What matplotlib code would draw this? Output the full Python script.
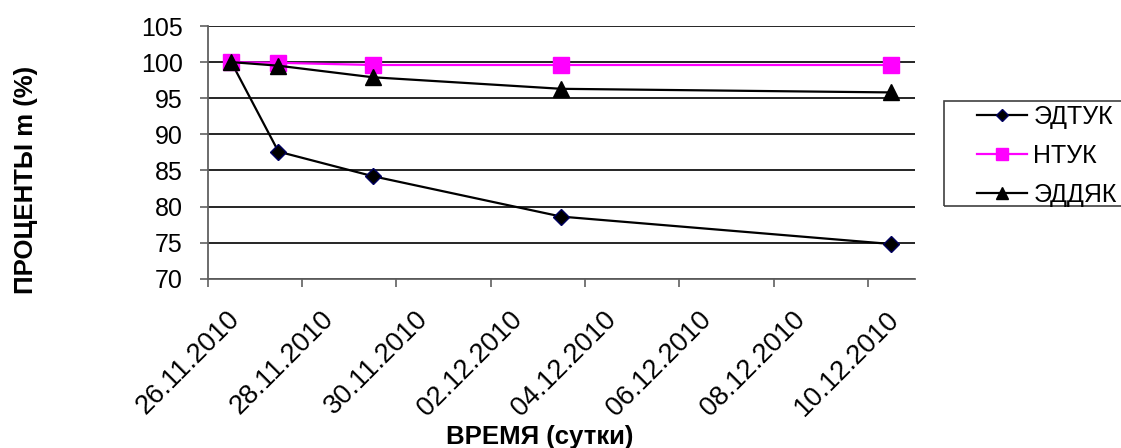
import pandas as pd
import numpy as np
import matplotlib
matplotlib.use('Agg')
import matplotlib.pyplot as plt
import matplotlib.dates as mdates
import matplotlib.transforms as mtransforms
from matplotlib.patches import Rectangle
from datetime import timedelta

plt.rcParams['font.family'] = ['Liberation Sans', 'DejaVu Sans']

# Data
dates = ['26.11.2010', '27.11.2010', '29.11.2010', '03.12.2010', '10.12.2010']
edtuk = [100.0, 87.6, 84.2, 78.6, 74.8]
ntuk = [100.0, 99.9, 99.6, 99.6, 99.6]
eddyak = [100.0, 99.5, 97.9, 96.3, 95.8]
series_names = ['ЭДТУК', 'НТУК', 'ЭДДЯК']
tick_dates = ['26.11.2010', '28.11.2010', '30.11.2010', '02.12.2010',
              '04.12.2010', '06.12.2010', '08.12.2010', '10.12.2010']

x = pd.to_datetime(dates, dayfirst=True).to_pydatetime()
xt = pd.to_datetime(tick_dates, dayfirst=True).to_pydatetime()
half = timedelta(hours=12)

W, H = 1121, 448
fig = plt.figure(figsize=(W / 100, H / 100), dpi=100)
ax = fig.add_axes([207.7 / W, 1 - 278.7 / H, (915 - 207.7) / W, (278.7 - 26) / H])

ax.plot(x, edtuk, color='black', lw=1.6, marker='D', ms=8,
        mfc='black', mec='#000060', mew=1, label=series_names[0], zorder=3)
ax.plot(x, ntuk, color='#FF00FF', lw=1.6, marker='s', ms=11,
        mfc='#FF00FF', mec='#FF00FF', label=series_names[1], zorder=3)
ax.plot(x, eddyak, color='black', lw=1.6, marker='^', ms=11,
        mfc='black', mec='black', label=series_names[2], zorder=4)

ax.set_ylim(70, 105)
ax.set_yticks(np.arange(70, 106, 5))
ax.set_xlim(xt[0] - half, xt[-1] + half)

# labels centred on the day, tick marks at day boundaries
ax.set_xticks(xt)
ax.set_xticks([d - half for d in xt], minor=True)
ax.xaxis.set_major_formatter(mdates.DateFormatter('%d.%m.%Y'))
ax.tick_params(axis='x', which='major', length=0, pad=26.5, labelsize=19.5)
ax.tick_params(axis='x', which='minor', length=6, width=1.2, color='#606060',
               direction='out')
ax.tick_params(axis='y', length=6, width=1.2, color='#606060', pad=12,
               labelsize=18)
for lbl in ax.get_xticklabels():
    lbl.set_rotation(45)
    lbl.set_ha('right')
    lbl.set_va('center')
    lbl.set_rotation_mode('anchor')
    lbl.set_transform(lbl.get_transform() +
                      mtransforms.ScaledTranslation(4 / 100, 0, fig.dpi_scale_trans))

ax.grid(axis='y', color='black', lw=1.2)
ax.set_axisbelow(True)
for s in ['top', 'right']:
    ax.spines[s].set_visible(False)
for s in ['left', 'bottom']:
    ax.spines[s].set_color('#606060')
    ax.spines[s].set_linewidth(1.3)

fig.text(26 / W, 1 - 180 / H, 'ПРОЦЕНТЫ m (%)', rotation=90, ha='center',
         va='center', fontsize=18.5, fontweight='bold')
fig.text(540 / W, 1 - 437 / H, 'ВРЕМЯ (сутки)', ha='center', va='center',
         fontsize=18.5, fontweight='bold')

# legend box drawn separately (Excel-like wide left margin)
fig.patches.append(Rectangle((944 / W, 1 - 206 / H), (W + 5 - 944) / W,
                             (206 - 101) / H, transform=fig.transFigure,
                             fill=False, edgecolor='#404040', lw=1.2))
leg = fig.legend(loc='upper left', bbox_to_anchor=(977 / W, 1 - 105 / H),
                 frameon=False, fontsize=18, handlelength=2.0,
                 handletextpad=0.25, labelspacing=0.6, borderpad=0,
                 borderaxespad=0, markerscale=0.8)

fig.savefig('out.png', dpi=100)
